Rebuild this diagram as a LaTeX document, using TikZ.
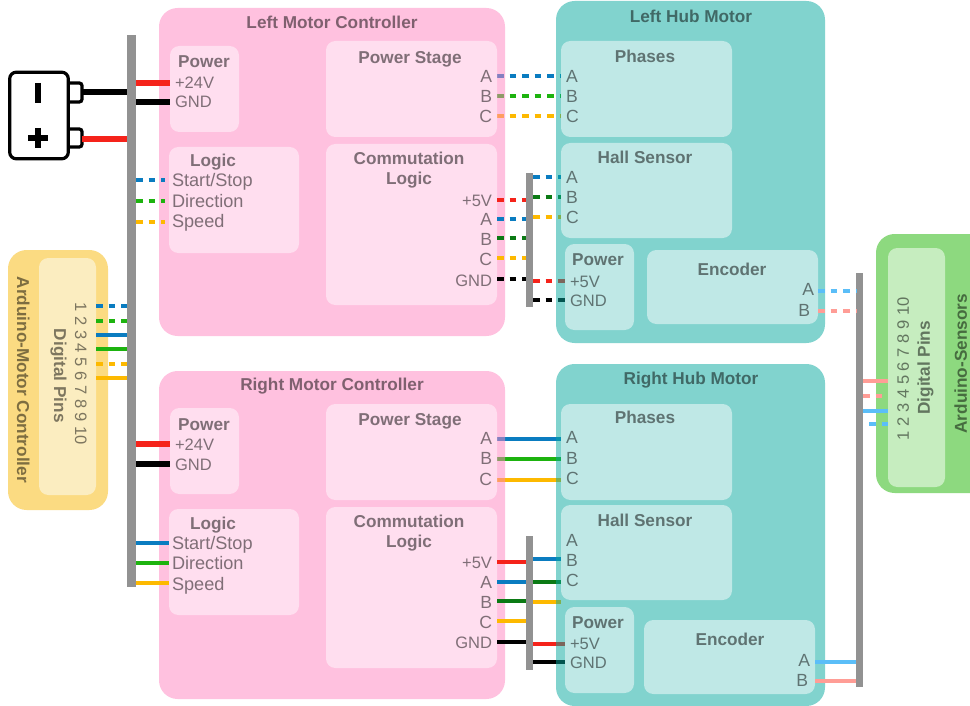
\documentclass[tikz,border=0pt]{standalone}
\usepackage{fontspec}
\setmainfont{Liberation Sans}
\pgfdeclarelayer{under}
\pgfdeclarelayer{over}
\pgfsetlayers{under,main,over}
\definecolor{wblue}{HTML}{0A7CC0}
\definecolor{wgreen}{HTML}{1DB30F}
\definecolor{wyellow}{HTML}{FDB900}
\definecolor{wred}{HTML}{F5231A}
\definecolor{wdark}{HTML}{0B7A14}
\definecolor{wlight}{HTML}{5BBEF8}
\definecolor{wsalmon}{HTML}{FF9D96}
\definecolor{pinkbase}{HTML}{FF85C1}
\definecolor{pinkin}{HTML}{FFDEEF}
\definecolor{tealbase}{HTML}{05A99F}
\definecolor{tealin}{HTML}{BFE8E6}
\definecolor{yelo}{HTML}{FBDB82}
\definecolor{yeli}{HTML}{FBEDC0}
\definecolor{gro}{HTML}{8DD97F}
\definecolor{gri}{HTML}{C6EDBF}
\definecolor{barc}{HTML}{929292}
\newcounter{lblc}
\newcommand{\bx}[6]{%
 \pgfmathsetmacro{\bw}{(#5-#3)*0.75}\pgfmathsetmacro{\bh}{(#6-#4)*0.75}%
 \node[#1,minimum width=\bw pt,minimum height=\bh pt] (#2) at ({(#3+#5)/2},{(#4+#6)/2}) {};}
\newcommand{\lab}[4][]{\stepcounter{lblc}\node[lbl,#1] (lbl\arabic{lblc}) at (#2,#3) {#4};}
\newcommand{\wire}[5][]{\draw[#2,#1] (#3 |- 0,#5) -- (#4 |- 0,#5);}
\tikzset{
 boxbase/.style={inner sep=0pt,outer sep=0pt,draw=none},
 pinkout/.style={boxbase,fill=pinkbase,fill opacity=.5,rounded corners=14pt},
 tealout/.style={boxbase,fill=tealbase,fill opacity=.5,rounded corners=14pt},
 pinkinner/.style={boxbase,fill=pinkin,rounded corners=7pt},
 tealinner/.style={boxbase,fill=tealin,rounded corners=7pt},
 yelouter/.style={boxbase,fill=yelo,rounded corners=14pt},
 yelinner/.style={boxbase,fill=yeli,rounded corners=7pt},
 groute/.style={boxbase,fill=gro,rounded corners=14pt},
 grinner/.style={boxbase,fill=gri,rounded corners=7pt},
 busbar/.style={boxbase,fill=barc},
 lbl/.style={yshift=-0.6pt,inner sep=0pt,outer sep=0pt,text=black,text opacity=.5,font=\fontsize{12.4pt}{14pt}\selectfont,text height=8.9pt,text depth=0pt},
 ttl/.style={font=\fontsize{12.9pt}{14pt}\selectfont\bfseries},
 lg/.style={font=\fontsize{13.6pt}{15pt}\selectfont},
 lt/.style={font=\fontsize{13.2pt}{15pt}\selectfont},
 tl/.style={anchor=west},
 tr/.style={anchor=east},
 pw/.style={line width=4.1pt},
 dsh/.style={line width=2.4pt,dash pattern=on 4.9pt off 4.5pt},
 sld/.style={line width=2.4pt},
 batline/.style={draw=black,line width=2.4pt},
}
\begin{document}
\begin{tikzpicture}[x=0.75pt,y=-0.75pt]
\useasboundingbox (0,0) rectangle (970,706);
\begin{pgfonlayer}{under}
\fill[white] (0,0) rectangle (970,706);
\end{pgfonlayer}
% outer boxes
\bx{pinkout}{lmc}{159}{8}{505}{336}
\bx{pinkout}{rmc}{159}{371}{505}{699}
\bx{tealout}{lhub}{556}{1}{825}{343}
\bx{tealout}{rhub}{556}{364}{825}{706}
\bx{yelouter}{amc}{8}{250}{108}{510}
\bx{groute}{asn}{876}{234}{990}{493}
% inner boxes
\bx{pinkinner}{lpow}{170}{46}{239}{132}
\bx{pinkinner}{llog}{169}{147}{299}{253}
\bx{pinkinner}{lps}{326}{41}{497}{137}
\bx{pinkinner}{lcl}{326}{144}{497}{305}
\bx{pinkinner}{rpow}{170}{408}{239}{494}
\bx{pinkinner}{rlog}{169}{509}{299}{615}
\bx{pinkinner}{rps}{326}{404}{497}{500}
\bx{pinkinner}{rcl}{326}{507}{497}{668}
\bx{tealinner}{lph}{561}{41}{732}{137}
\bx{tealinner}{lhs}{561}{143}{732}{238}
\bx{tealinner}{lhp}{565}{244}{634}{330}
\bx{tealinner}{lenc}{647}{250}{818}{324}
\bx{tealinner}{rph}{561}{404}{732}{500}
\bx{tealinner}{rhs}{561}{505}{732}{600}
\bx{tealinner}{rhp}{565}{607}{634}{693}
\bx{tealinner}{renc}{644}{620}{815}{694}
\bx{yelinner}{amcd}{39}{258}{96}{495}
\bx{grinner}{asnd}{888}{248}{945}{487}
% bars
\bx{busbar}{bus}{127}{35}{136}{587}
\bx{busbar}{lbus}{526}{173}{533}{307}
\bx{busbar}{rbus}{526}{536}{533}{670}
\bx{busbar}{sbus}{856}{273}{863}{687}
% battery
\node[boxbase,batline,rounded corners=5pt,minimum width=44pt,minimum height=65pt] (batt) at (39,115.5) {};
\draw[batline,rounded corners=2pt] (batt.east |- 0,83) -- (82,83) -- (82,102) -- (batt.east |- 0,102);
\draw[batline,rounded corners=2pt] (batt.east |- 0,129) -- (82,129) -- (82,147) -- (batt.east |- 0,147);
\draw[black,line width=3.8pt] (38,83) -- (38,103);
\draw[black,line width=3.8pt] (28,138) -- (48,138) (38,128) -- (38,148);
\coordinate (tabn) at (82,92);
\coordinate (tabp) at (82,139);
% wires that pass under the hub colour
\begin{pgfonlayer}{under}
\wire{dsh,wblue}{lps.east}{lph.west}{76}
\wire{dsh,wgreen}{lps.east}{lph.west}{96}
\wire{dsh,wyellow}{lps.east}{lph.west}{116}
\wire{sld,wblue}{rps.east}{rph.west}{439}
\wire{sld,wgreen}{rps.east}{rph.west}{459}
\wire{sld,wyellow}{rps.east}{rph.west}{480}
\wire{dsh,wblue}{lbus.east}{lhs.west}{177}
\wire{dsh,wdark}{lbus.east}{lhs.west}{197}
\wire{dsh,wyellow}{lbus.east}{lhs.west}{217}
\wire{dsh,wred}{lbus.east}{lhp.west}{281}
\wire{dsh,black}{lbus.east}{lhp.west}{300}
\wire{sld,wblue}{rbus.east}{rhs.west}{559}
\wire{sld,wdark}{rbus.east}{rhs.west}{582}
\wire{sld,wyellow}{rbus.east}{rhs.west}{602}
\wire{sld,wred}{rbus.east}{rhp.west}{644}
\wire{sld,black}{rbus.east}{rhp.west}{662}
\end{pgfonlayer}
\begin{pgfonlayer}{over}
\draw[pw,black] (tabn) -- (bus.west |- tabn);
\draw[pw,wred] (tabp) -- (bus.west |- tabp);
\wire{pw,wred}{bus.east}{lpow.west}{83}
\wire{pw,black}{bus.east}{lpow.west}{102}
\wire{pw,wred}{bus.east}{rpow.west}{444}
\wire{pw,black}{bus.east}{rpow.west}{464}
\wire[shorten >=3pt]{dsh,wblue}{bus.east}{llog.west}{180}
\wire[shorten >=3pt]{dsh,wgreen}{bus.east}{llog.west}{201}
\wire[shorten >=3pt]{dsh,wyellow}{bus.east}{llog.west}{222}
\wire{sld,wblue}{bus.east}{rlog.west}{543}
\wire{sld,wgreen}{bus.east}{rlog.west}{563}
\wire{sld,wyellow}{bus.east}{rlog.west}{583}
\wire{dsh,wblue}{amcd.east}{bus.west}{306}
\wire{dsh,wgreen}{amcd.east}{bus.west}{321}
\wire{sld,wblue}{amcd.east}{bus.west}{335}
\wire{sld,wgreen}{amcd.east}{bus.west}{349}
\wire{dsh,wyellow}{amcd.east}{bus.west}{364}
\wire{sld,wyellow}{amcd.east}{bus.west}{378}
\wire{dsh,wred}{lcl.east}{lbus.west}{200}
\wire{dsh,wblue}{lcl.east}{lbus.west}{219}
\wire{dsh,wdark}{lcl.east}{lbus.west}{238}
\wire{dsh,wyellow}{lcl.east}{lbus.west}{258}
\wire{dsh,black}{lcl.east}{lbus.west}{279}
\wire{sld,wred}{rcl.east}{rbus.west}{562}
\wire{sld,wblue}{rcl.east}{rbus.west}{582}
\wire{sld,wdark}{rcl.east}{rbus.west}{601}
\wire{sld,wyellow}{rcl.east}{rbus.west}{621}
\wire{sld,black}{rcl.east}{rbus.west}{642}
\wire{dsh,wlight}{lenc.east}{sbus.west}{291}
\wire{dsh,wsalmon}{lenc.east}{sbus.west}{311}
\wire{sld,wlight}{renc.east}{sbus.west}{662}
\wire{sld,wsalmon}{renc.east}{sbus.west}{681}
\wire{sld,wsalmon}{sbus.east}{asnd.west}{381}
\wire{dsh,wsalmon}{sbus.east}{asnd.west}{396}
\wire{sld,wlight}{sbus.east}{asnd.west}{411}
\wire[shorten <=4.5pt]{dsh,wlight}{sbus.east}{asnd.west}{424}
\end{pgfonlayer}
% left controller labels
\lab[ttl]{332}{22}{Left Motor Controller}
\lab[ttl]{204}{61}{Power}
\lab[tl]{175}{82}{+24V}
\lab[tl]{175}{101}{GND}
\lab[ttl]{213}{160}{Logic}
\lab[tl,lg]{172}{180}{Start/Stop}
\lab[tl,lg]{172}{201}{Direction}
\lab[tl,lg]{172}{221}{Speed}
\lab[ttl]{410}{57}{Power Stage}
\lab[tr,lt]{492}{76}{A}
\lab[tr,lt]{492}{96}{B}
\lab[tr,lt]{492}{116}{C}
\lab[ttl]{409}{158}{Commutation}
\lab[ttl]{409}{178}{Logic}
\lab[tr]{492}{200}{+5V}
\lab[tr,lt]{492}{219}{A}
\lab[tr,lt]{492}{239}{B}
\lab[tr,lt]{492}{259}{C}
\lab[tr]{492}{280}{GND}
% left hub labels
\lab[ttl]{691}{16}{Left Hub Motor}
\lab[ttl]{645}{56}{Phases}
\lab[tl,lt]{566}{76}{A}
\lab[tl,lt]{566}{96}{B}
\lab[tl,lt]{566}{116}{C}
\lab[ttl]{645}{157}{Hall Sensor}
\lab[tl,lt]{566}{177}{A}
\lab[tl,lt]{566}{197}{B}
\lab[tl,lt]{566}{217}{C}
\lab[ttl]{598}{259}{Power}
\lab[tl]{570}{281}{+5V}
\lab[tl]{570}{300}{GND}
\lab[ttl]{732}{269}{Encoder}
\lab[tr,lt]{814}{289}{A}
\lab[tr,lt]{810}{310}{B}
% right controller labels
\lab[ttl]{332}{384}{Right Motor Controller}
\lab[ttl]{204}{424}{Power}
\lab[tl]{175}{444}{+24V}
\lab[tl]{175}{464}{GND}
\lab[ttl]{213}{523}{Logic}
\lab[tl,lg]{172}{543}{Start/Stop}
\lab[tl,lg]{172}{563}{Direction}
\lab[tl,lg]{172}{584}{Speed}
\lab[ttl]{410}{419}{Power Stage}
\lab[tr,lt]{492}{438}{A}
\lab[tr,lt]{492}{458}{B}
\lab[tr,lt]{492}{479}{C}
\lab[ttl]{409}{521}{Commutation}
\lab[ttl]{409}{541}{Logic}
\lab[tr]{492}{562}{+5V}
\lab[tr,lt]{492}{582}{A}
\lab[tr,lt]{492}{602}{B}
\lab[tr,lt]{492}{622}{C}
\lab[tr]{492}{642}{GND}
% right hub labels
\lab[ttl]{691}{378}{Right Hub Motor}
\lab[ttl]{645}{417}{Phases}
\lab[tl,lt]{566}{437}{A}
\lab[tl,lt]{566}{458}{B}
\lab[tl,lt]{566}{478}{C}
\lab[ttl]{645}{520}{Hall Sensor}
\lab[tl,lt]{566}{540}{A}
\lab[tl,lt]{566}{560}{B}
\lab[tl,lt]{566}{580}{C}
\lab[ttl]{598}{622}{Power}
\lab[tl]{570}{643}{+5V}
\lab[tl]{570}{662}{GND}
\lab[ttl]{730}{639}{Encoder}
\lab[tr,lt]{810}{660}{A}
\lab[tr,lt]{808}{680}{B}
% arduino labels
\lab[ttl,rotate=-90]{23}{379}{Arduino-Motor Controller}
\lab[ttl,rotate=-90]{60}{375}{Digital Pins}
\lab[rotate=-90]{81}{373}{1 2 3 4 5 6 7 8 9 10}
\lab[ttl,rotate=90]{961}{363}{Arduino-Sensors}
\lab[ttl,rotate=90]{924}{367}{Digital Pins}
\lab[rotate=90]{903}{368}{1 2 3 4 5 6 7 8 9 10}
\end{tikzpicture}
\end{document}
